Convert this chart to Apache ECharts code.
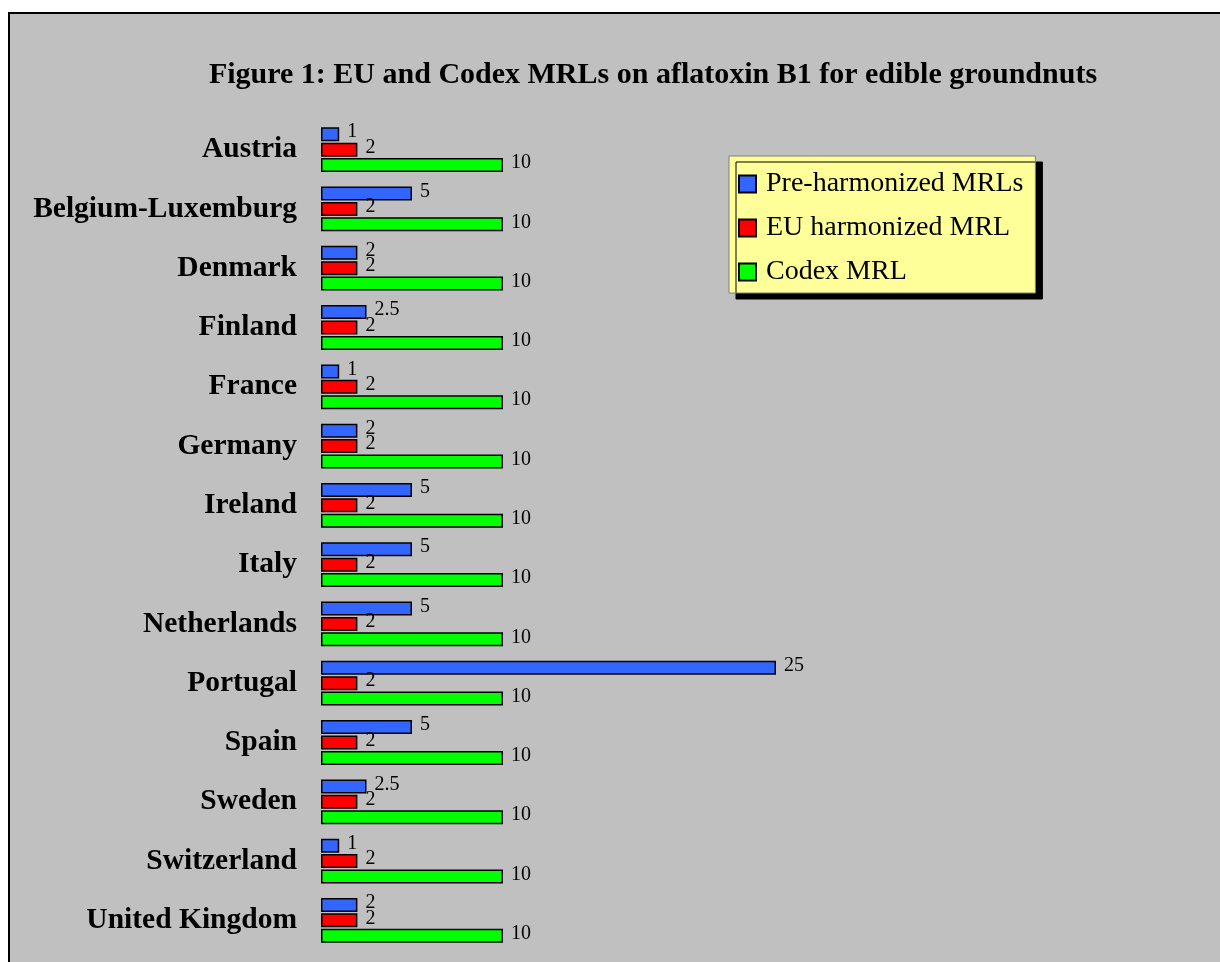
<!DOCTYPE html>
<html>
<head>
<meta charset="utf-8">
<script src="https://cdn.jsdelivr.net/npm/echarts@6/dist/echarts.min.js"></script>
<style>
  html, body { margin: 0; padding: 0; background: #fff; }
  .frame {
    position: absolute; left: 8px; top: 12px; width: 1220px; height: 962px;
    background: #c0c0c0; border-left: 2px solid #000; border-top: 2px solid #000;
  }
  #chart { position: absolute; left: 0; top: 0; width: 1220px; height: 962px; }
</style>
</head>
<body>
<div class="frame"></div>
<div id="chart"></div>
<script>
const countries = ["Austria", "Belgium-Luxemburg", "Denmark", "Finland", "France", "Germany",
  "Ireland", "Italy", "Netherlands", "Portugal", "Spain", "Sweden", "Switzerland", "United Kingdom"];
const preHarmonized = [1, 5, 2, 2.5, 1, 2, 5, 5, 5, 25, 5, 2.5, 1, 2];
const euHarmonized = [2, 2, 2, 2, 2, 2, 2, 2, 2, 2, 2, 2, 2, 2];
const codexMrl = [10, 10, 10, 10, 10, 10, 10, 10, 10, 10, 10, 10, 10, 10];

const serif = "'Liberation Serif', 'Times New Roman', serif";

function barSeries(name, data, color) {
  return {
    name: name,
    type: "bar",
    data: data,
    barWidth: 14,
    barGap: "10%",
    itemStyle: { color: color, borderColor: "#000", borderWidth: 1.5 },
    label: {
      show: true,
      position: "right",
      distance: 8,
      offset: [0, -2],
      color: "#000",
      fontFamily: serif,
      fontSize: 20,
    },
  };
}

const chart = echarts.init(document.getElementById("chart"));
chart.setOption({
  animation: false,
  backgroundColor: "transparent",
  title: {
    text: "Figure 1: EU and Codex MRLs on aflatoxin B1 for edible groundnuts",
    left: 648,
    top: 55,
    textAlign: "center",
    textStyle: { fontFamily: serif, fontSize: 30, fontWeight: "bold", color: "#000" },
  },
  legend: {
    orient: "vertical",
    left: 729,
    top: 156,
    backgroundColor: "#ffff99",
    borderColor: "#808080",
    borderWidth: 1,
    shadowColor: "#000",
    shadowOffsetX: 7,
    shadowOffsetY: 6,
    shadowBlur: 0,
    padding: [14, 12, 7, 9],
    itemGap: 16,
    itemWidth: 17,
    itemHeight: 17,
    icon: "rect",
    textStyle: { fontFamily: serif, fontSize: 28, color: "#000", padding: [0, 0, 0, 5] },
    data: ["Pre-harmonized MRLs", "EU harmonized MRL", "Codex MRL"],
  },
  grid: { left: 321, top: 120, width: 546, height: 830 },
  xAxis: { type: "value", min: 0, max: 30, show: false },
  yAxis: {
    type: "category",
    data: countries,
    inverse: true,
    axisLine: { show: false },
    axisTick: { show: false },
    axisLabel: {
      margin: 24,
      fontFamily: serif,
      fontSize: 29.5,
      fontWeight: "bold",
      color: "#000",
    },
  },
  series: [
    barSeries("Pre-harmonized MRLs", preHarmonized, "#3366ff"),
    barSeries("EU harmonized MRL", euHarmonized, "#ff0000"),
    barSeries("Codex MRL", codexMrl, "#00ff00"),
  ],
});
</script>
</body>
</html>
